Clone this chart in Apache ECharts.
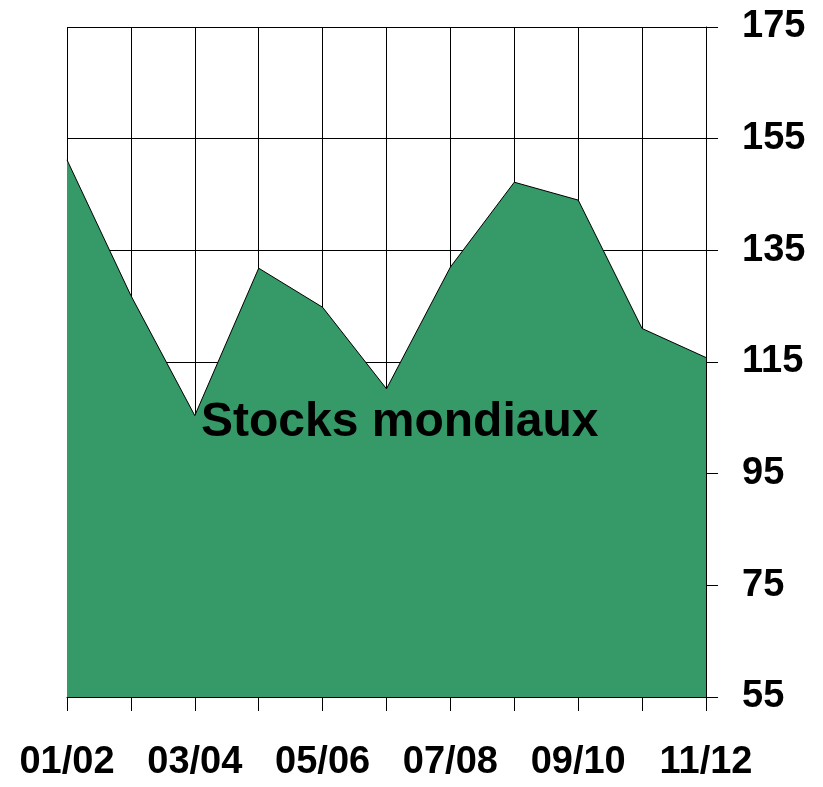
<!DOCTYPE html>
<html>
<head>
<meta charset="utf-8">
<script src="https://cdn.jsdelivr.net/npm/echarts@6/dist/echarts.min.js"></script>
<style>
  html, body { margin: 0; padding: 0; background: #fff; }
  #chart { width: 823px; height: 787px; }
</style>
</head>
<body>
<div id="chart"></div>
<script>
// données
const seasons = ['01/02', '02/03', '03/04', '04/05', '05/06', '06/07', '07/08', '08/09', '09/10', '10/11', '11/12'];
const stocks = [151.2, 126.9, 105.4, 131.8, 124.8, 110.2, 132.0, 147.2, 144.0, 121.0, 115.8];
const seriesName = 'Stocks mondiaux';

const myChart = echarts.init(document.getElementById('chart'));

myChart.setOption({
  backgroundColor: '#fff',
  animation: false,
  grid: {
    left: 67,
    right: 117,
    top: 27,
    bottom: 90,
  },
  xAxis: {
    type: 'category',
    data: seasons,
    boundaryGap: false,
    axisLine: { lineStyle: { color: '#000', width: 1 } },
    axisTick: { show: true, interval: 0, length: 14, lineStyle: { color: '#000' } },
    axisLabel: {
      interval: 1,
      margin: 47,
      color: '#000',
      fontFamily: 'Liberation Sans, Arial, sans-serif',
      fontWeight: 'bold',
      fontSize: 38,
    },
    splitLine: { show: true, interval: 0, lineStyle: { color: '#000', width: 1 } },
  },
  yAxis: {
    type: 'value',
    position: 'right',
    min: 55,
    max: 175,
    interval: 20,
    axisLine: { show: true, lineStyle: { color: '#000', width: 1 } },
    axisTick: { show: true, length: 12, lineStyle: { color: '#000' } },
    axisLabel: {
      margin: 36,
      color: '#000',
      fontFamily: 'Liberation Sans, Arial, sans-serif',
      fontWeight: 'bold',
      fontSize: 38,
    },
    splitLine: { show: true, lineStyle: { color: '#000', width: 1 } },
  },
  graphic: [{
    type: 'text',
    left: 201,
    top: 399,
    style: {
      text: seriesName,
      fill: '#000',
      font: 'bold 48px "Liberation Sans", Arial, sans-serif',
    },
    z: 10,
  }],
  series: [{
    name: seriesName,
    type: 'line',
    data: stocks,
    symbol: 'none',
    lineStyle: { color: '#000', width: 1 },
    areaStyle: { color: '#359A68', opacity: 1 },
  }],
});
</script>
</body>
</html>
